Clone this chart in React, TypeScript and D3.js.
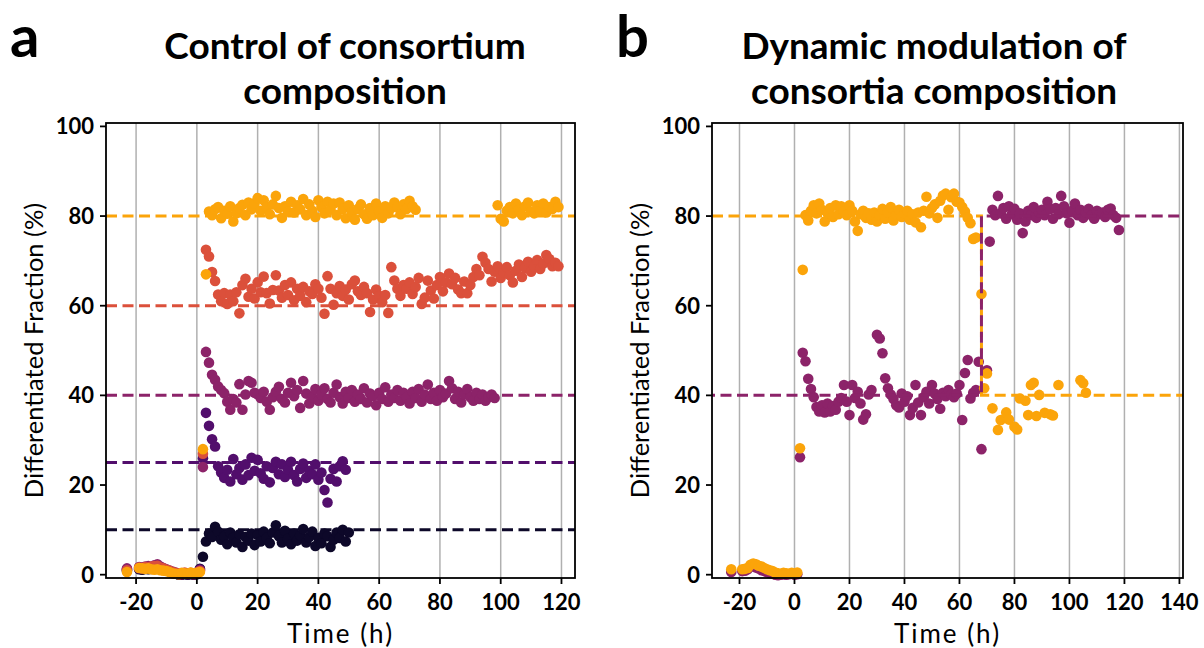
import * as d3 from "d3";

// sampling interval of the measurements (h)
const dt = 1;

// ---------- panel a: control of consortium composition ----------
const aTargets = [80, 60, 40, 25, 10];
const aColors = ["#fba40a", "#db503b", "#8c2369", "#520e6c", "#0d0829"];

// pre-induction, starting at t = -23 h
const aPreOrange = [0.6, null, null, null, 1.5, 1.4, 1.3, 1.4, 1.2, 1.1, 1.2, 1.0, 0.9, 0.8, 0.6, 0.3, 0.2, 0.1, 0.4, 0.3, 0.2, 0.5, 0.3, 0.4, 0.6];
const aPreRed = [1.0, null, null, null, 1.6, 1.5, 1.7, 1.6, 1.8, 1.9, 2.0, 1.6, 1.4, 1.1, 0.9, 0.6, 0.4, 0.3, 0.2, 0.5, 0.3, 0.4, 0.2, 0.5, 0.8];
const aPreMagenta = [1.4, null, null, null, 1.7, 1.6, 1.8, 1.9, 1.7, 2.1, 2.3, 1.8, 1.5, 1.2, 0.9, 0.7, 0.5, 0.2, 0.1, 0.3, 0.2, 0.3, 0.1, 0.3, 1.0];
const aPrePurple = [1.2, null, null, null, 1.4, 1.3, 1.5, 1.6, 1.5, 1.7, 1.9, 1.5, 1.3, 1.0, 0.8, 0.5, 0.3, 0.1, 0.1, 0.2, 0.1, 0.2, 0.1, 0.2, 1.2];
const aPreBlack = [0.9, null, null, null, 1.2, 1.1, 1.3, 1.2, 1.3, 1.5, 1.6, 1.3, 1.1, 0.9, 0.7, 0.4, 0.2, 0.0, 0.0, 0.1, 0.0, 0.1, 0.0, 0.1, 1.3];

// after induction, starting at t = 2 h
const aOrange = [28, 67, 81.0, 80.2, 81.5, 82.0, 79.5, 81.2, 80.5, 82.2, 78.8, 80.6,
  81.8, 82.5, 80.2, 83.0, 81.5, 82.8, 84.0, 81.2, 83.5, 82.0,
  80.4, 82.6, 84.5, 81.8, 79.6, 82.2, 81.0, 83.2, 80.8, 82.4,
  81.5, 83.8, 80.2, 82.6, 81.2, 79.8, 83.5, 82.0, 80.6, 83.2,
  81.4, 82.8, 80.2, 83.0, 81.6, 79.5, 82.4, 80.8, 79.2, 81.6,
  82.6, 80.4, 79.4, 81.8, 80.2, 82.8, 81.0, 79.6, 82.2, 80.6,
  81.8, 83.0, 82.0, 80.4, 82.6, 81.6, 83.4, 82.2, 81.4];
// orange measurements resume at t = 99 h
const aOrangeLate = [82.4, 79.4, 78.8, 81.2, 82.0, 80.6, 82.8, 81.4, 80.2, 82.2, 83.0,
  81.0, 80.6, 82.4, 81.2, 82.8, 80.8, 82.0, 81.6, 83.2, 82.0];
const aRed = [27, 72.5, 71, 67.5, 65.5, 62.5, 61, 62.8, 60.4, 62.5, 61, 63, 58.3, 64.6, 66, 62,
  63.8, 61.6, 65.2, 63, 66.5, 62.8, 60.5, 63.5, 66.8, 63.4, 61.8, 64.6, 62.4, 65.2, 61.2,
  63.8, 62.2, 64.2, 60.8, 63.2, 62.6, 64.8, 63.8, 61.8, 58.2, 66.6, 63.8, 60.2, 62.8, 64.4,
  62.2, 63.6, 61.4, 64.8, 65.6, 63.2, 62.4, 64.2, 62.8, 58.6, 61.4, 63.6, 62.2, 60.8, 62.4,
  58.4, 68.6, 65.6, 63.8, 62.2, 64.6, 63.8, 65.2, 62.6, 64.2, 66.2, 60.4, 61.8, 65.6, 63.4,
  61.6, 64.6, 66.4, 63.2, 65.2, 67.2, 64.8, 66.2, 63.6, 62.8, 65.4, 62.8, 64.6, 66.4, 68.2,
  66.8, 70.9, 69.6, 68.2, 65.4, 67.6, 68.8, 66.2, 67.4, 68.6, 66.8, 65.2, 67.8, 69.2, 66.4,
  68.4, 69.8, 67.6, 68.8, 70.2, 68.2, 69.4, 71.3, 70.4, 68.8, 69.6, 68.8];
const aMagenta = [24, 49.7, 47.3, 44.6, 43.5, 42, 41.2, 40.5, 38.6, 36.8, 39.2, 38.4, 42.5, 36.8,
  40.2, 43.2, 42.8, 40.6, 40.2, 39.4, 40.8, 38.6, 36.8, 39.6, 40.8, 41.9, 39.2, 38.4, 40.6,
  42.8, 39.8, 41.2, 37.2, 43.2, 40.4, 38.2, 39.6, 41.4, 38.8, 40.2, 41.6, 39.2, 38.4, 40.6,
  42.4, 39.6, 38.2, 40.8, 39.4, 41.2, 38.6, 40.2, 39.2, 41.6, 38.4, 40.4, 39.8, 37.8, 40.6,
  39.2, 41.8, 38.6, 40.2, 39.4, 41.2, 38.8, 40.6, 39.6, 38.2, 40.8, 39.4, 41.4, 38.6, 40.2,
  42.4, 39.2, 40.6, 38.8, 41.2, 39.6, 40.4, 43.2, 41.6, 39.2, 40.8, 38.4, 40.2, 41.4, 39.6,
  38.8, 40.6, 39.2, 40.2, 38.8, 39.6, 40.2, 39.4];
const aPurple = [26, 36.1, 33.2, 30.2, 28.6, 24.2, 22.8, 21.6, 23.4, 20.8, 25.8, 22.4, 23.8, 21.2,
  24.6, 22.2, 26.1, 23.2, 25.6, 22.6, 21.4, 24.2, 20.6, 23.8, 25.2, 22.4, 24.6, 21.8, 23.4,
  25.2, 22.2, 20.8, 23.6, 24.8, 21.6, 23.2, 22.4, 24.6, 21.2, 22.8, 18.9, 16.1, 21.4, 23.6,
  20.8, 24.2, 25.3, 23.4];
const aBlack = [4.0, 7.4, 9.2, 8.4, 10.7, 9.6, 7.8, 8.6, 6.8, 9.4, 8.2, 7.2, 9.0, 6.2, 8.4, 7.6,
  9.2, 6.6, 8.8, 7.4, 9.6, 8.2, 7.0, 9.4, 11.0, 8.6, 7.2, 9.8, 8.0, 6.8, 9.2, 7.6, 8.8, 10.2,
  7.2, 8.4, 9.6, 6.4, 8.2, 7.0, 9.2, 8.6, 6.2, 7.8, 9.4, 8.2, 10.0, 7.4, 9.4];

// ---------- panel b: dynamic modulation ----------
const switchTime = 68; // h, set-points are swapped here
const bOrangeSet = [80, 40];
const bMagentaSet = [40, 80];
const bOrangeColor = "#fba40a";
const bMagentaColor = "#8c2369";

// pre-induction, starting at t = -23 h
const bPreOrange = [1.2, null, null, null, 1.2, 1.3, 1.5, 2.2, 2.5, 2.3, 2.0, 1.8, 1.5, 1.2, 1.0, 0.8, 0.5, 0.3, 0.2, 0.4, 0.3, 0.2, 0.4, 0.3, 0.5];
const bPreMagenta = [0.6, null, null, null, 0.8, 0.9, 1.2, 1.8, 2.0, 1.6, 1.4, 1.0, 0.8, 0.6, 0.4, 0.2, 0.0, -0.1, 0.0, 0.1, 0.0, 0.1, 0.2, 0.0, 0.1];

// after induction, starting at t = 2 h
const bOrange = [28.2, 68, 80.2, 79.0, 81.2, 82.4, 80.6, 82.8, 81.4, 78.8, 80.6, 81.8, 79.8, 82.4,
  80.4, 82.2, 81.0, 80.2, 82.4, 81.2, 78.8, 76.7, 80.4, 81.2, 79.6, 80.6, 79.2, 80.8, 78.8,
  80.2, 81.6, 79.4, 80.8, 82.0, 79.0, 80.4, 81.4, 79.8, 80.6, 81.2, 79.2, 80.4, 78.6, 80.8,
  77.5, 81.2, 84.3, 80.6, 81.8, 82.6, 79.6, 83.4, 84.6, 85.0, 81.4, 84.2, 85.0, 83.2, 83.0,
  82.0, 81.0, 79.6, 78.4, 74.9, 75.2, null, 62.6, 41.6, 44.9, null, 37.1, null, 32.3, 34.5,
  null, 36.2, 34.6, null, 33.0, 32.4, 39.3, null, 38.8, 35.6, 42.3, 42.8, 35.4, 40.1, null,
  36.1, null, 35.8, 35.5, null, 42.3, null, null, null, null, null, null, null, 43.4, 42.7, 40.6];
const bMagenta = [26.2, 49.5, 47.6, 43.7, 41.4, 39.6, 37.4, 36.4, 37.8, 36.2, 38.2, 36.4, 37.6,
  36.8, 38.6, 39.4, 42.3, 38.6, 35.6, 42.3, 39.4, 40.8, 38.2, 34.6, 35.8, 40.2, 41.2, null,
  53.5, 52.7, 49.4, 43.8, 41.6, 40.2, 39.2, 37.8, 37.3, 40.4, 38.6, 39.8, 35.6, 37.2, 42.3,
  38.4, 35.6, 39.6, 40.8, 38.2, 42.3, 40.4, 39.2, 37.0, 40.6, 39.8, 41.2, 40.2, 39.6, 40.4,
  42.3, 34.5, 45.0, 47.9, 39.3, 40.6, 41.2, 47.5, 28.0, null, 45.6, 74.3, 81.4, 80.2, 84.5,
  80.6, 81.8, 79.4, 82.2, 80.4, 81.6, 79.2, 80.6, 76.2, 78.8, 81.2, 80.2, 82.0, 79.6, 80.8,
  81.4, 80.2, 83.2, 81.6, 79.4, 81.8, 80.4, 84.5, 82.2, 80.6, 78.5, 81.2, 82.8, 80.2, 81.4,
  79.6, 80.8, 81.6, 80.2, 79.4, 81.2, 80.4, 80.8, 79.8, 81.4, 81.7, 80.2, 79.6, 76.9];

const yTicks = [0, 20, 40, 60, 80, 100];
const aXTicks = [-20, 0, 20, 40, 60, 80, 100, 120];
const bXTicks = [-20, 0, 20, 40, 60, 80, 100, 120, 140];

type Seg = { t0: number; v: (number | null)[] };
type Series = { color: string; segs: Seg[] };

function points(segs: Seg[]) {
  const out: [number, number][] = [];
  segs.forEach((s) =>
    s.v.forEach((v, i) => {
      if (v !== null) out.push([s.t0 + i * dt, v]);
    })
  );
  return out;
}

const aSeries: Series[] = [
  { color: aColors[4], segs: [{ t0: -23, v: aPreBlack }, { t0: 2, v: aBlack }] },
  { color: aColors[3], segs: [{ t0: -23, v: aPrePurple }, { t0: 2, v: aPurple }] },
  { color: aColors[2], segs: [{ t0: -23, v: aPreMagenta }, { t0: 2, v: aMagenta }] },
  { color: aColors[1], segs: [{ t0: -23, v: aPreRed }, { t0: 2, v: aRed }] },
  { color: aColors[0], segs: [{ t0: -23, v: aPreOrange }, { t0: 2, v: aOrange }, { t0: 99, v: aOrangeLate }] },
];

const bSeries: Series[] = [
  { color: bMagentaColor, segs: [{ t0: -23, v: bPreMagenta }, { t0: 2, v: bMagenta }] },
  { color: bOrangeColor, segs: [{ t0: -23, v: bPreOrange }, { t0: 2, v: bOrange }] },
];

const TOP = 123;
const BOTTOM = 578;
const FONT = "Lato, 'DejaVu Sans', sans-serif";

type PanelProps = {
  left: number;
  right: number;
  xDomain: [number, number];
  xTicks: number[];
  series: Series[];
  title: string[];
  titleX: number;
  letter: string;
  letterX: number;
  kind: "a" | "b";
};

function Panel(p: PanelProps) {
  const x = d3.scaleLinear().domain(p.xDomain).range([p.left, p.right]);
  const y = d3.scaleLinear().domain([-0.74, 100.76]).range([BOTTOM, TOP]);
  const [x0, x1] = p.xDomain;
  const line = d3.line<[number, number]>().x((d) => x(d[0])).y((d) => y(d[1]));

  let setLines: { color: string; d: string; offset: number }[] = [];
  if (p.kind === "a") {
    setLines = aTargets.map((t, i) => ({
      color: aColors[i],
      d: line([[x0, t], [x1, t]]) as string,
      offset: 0,
    }));
  } else {
    setLines = [
      {
        color: bOrangeColor,
        d: line([[x0, bOrangeSet[0]], [switchTime, bOrangeSet[0]], [switchTime, bOrangeSet[1]], [x1, bOrangeSet[1]]]) as string,
        offset: 0,
      },
      {
        color: bMagentaColor,
        d: line([[x0, bMagentaSet[0]], [switchTime, bMagentaSet[0]], [switchTime, bMagentaSet[1]], [x1, bMagentaSet[1]]]) as string,
        offset: 8,
      },
    ];
  }
  const lines = setLines.map((l, i) => (
    <path key={i} d={l.d} fill="none" stroke={l.color} strokeWidth={3}
      strokeDasharray="11 5.5" strokeDashoffset={l.offset} />
  ));
  const dots = p.series.map((s, i) => (
    <g key={i} fill={s.color}>
      {points(s.segs).map((d, j) => (
        <circle key={j} cx={x(d[0])} cy={y(d[1])} r={5.3} />
      ))}
    </g>
  ));

  const midX = (p.left + p.right) / 2;
  const midY = (TOP + BOTTOM) / 2;

  return (
    <g>
      {p.xTicks.map((t) => (
        <line key={t} x1={x(t)} x2={x(t)} y1={TOP} y2={BOTTOM} stroke="#b0b0b0" strokeWidth={1.5} />
      ))}
      {p.kind === "a" ? lines : null}
      {dots}
      {p.kind === "b" ? lines : null}
      <rect x={p.left} y={TOP} width={p.right - p.left} height={BOTTOM - TOP}
        fill="none" stroke="#000" strokeWidth={1.8} />
      {yTicks.map((t) => (
        <g key={t}>
          <line x1={p.left - 6} x2={p.left} y1={y(t)} y2={y(t)} stroke="#000" strokeWidth={1.8} />
          <text x={p.left - 12} y={y(t)} dy="0.36em" textAnchor="end"
            fontFamily={FONT} fontWeight={700} fontSize={22}>{t}</text>
        </g>
      ))}
      {p.xTicks.map((t) => (
        <g key={t}>
          <line x1={x(t)} x2={x(t)} y1={BOTTOM} y2={BOTTOM + 6} stroke="#000" strokeWidth={1.8} />
          <text x={x(t)} y={610} textAnchor="middle"
            fontFamily={FONT} fontWeight={700} fontSize={22}>{t < 0 ? `-${-t}` : t}</text>
        </g>
      ))}
      <text x={midX} y={643} textAnchor="middle" fontFamily={FONT} fontSize={26}
        letterSpacing={2}>Time (h)</text>
      <text transform={`translate(${p.left - 63},${midY}) rotate(-90)`} textAnchor="middle"
        fontFamily={FONT} fontSize={25.5}>Differentiated Fraction (%)</text>
      {p.title.map((s, i) => (
        <text key={i} x={p.titleX} y={59 + i * 45} textAnchor="middle"
          fontFamily={FONT} fontWeight={700} fontSize={37}>{s}</text>
      ))}
      <text x={p.letterX} y={57} fontFamily={FONT} fontWeight={700} fontSize={58}>{p.letter}</text>
    </g>
  );
}

export default function App() {
  return (
    <svg width={1204} height={648} style={{ position: "absolute", left: 0, top: 0, background: "#fff" }}>
      <rect width={1204} height={648} fill="#fff" />
      <Panel kind="a" left={106} right={575} xDomain={[-29.9, 124.45]} xTicks={aXTicks}
        series={aSeries} title={["Control of consortium", "composition"]} titleX={345}
        letter="a" letterX={10} />
      <Panel kind="b" left={712} right={1183} xDomain={[-30, 141.3]} xTicks={bXTicks}
        series={bSeries} title={["Dynamic modulation of", "consortia composition"]} titleX={934}
        letter="b" letterX={616} />
    </svg>
  );
}
